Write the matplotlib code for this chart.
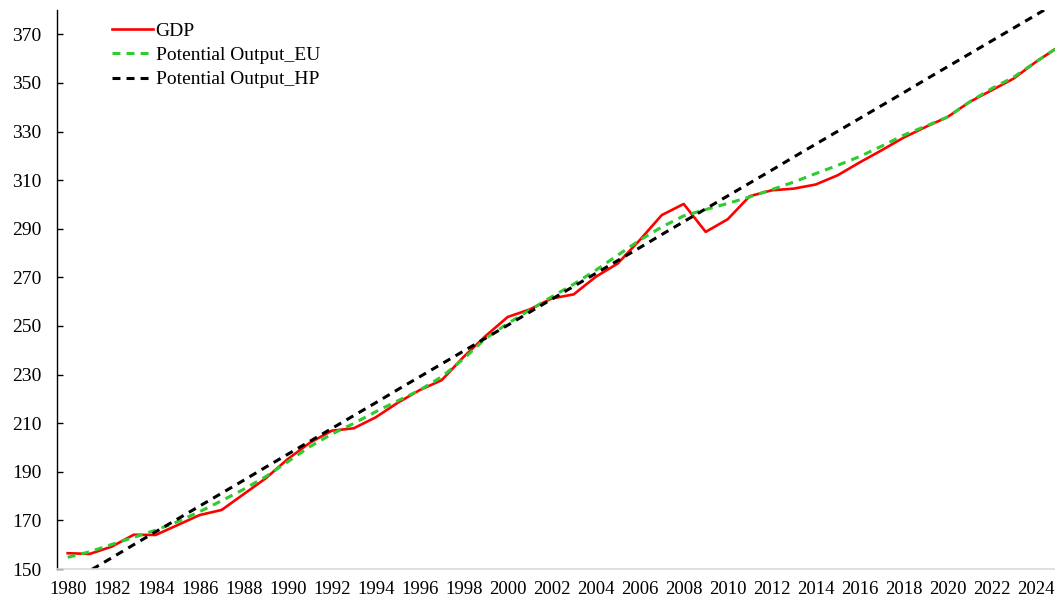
"""
GDP vs potential output (EU method and HP filter), 1980-2025.
Excel-style line chart recreated with matplotlib.
"""

import matplotlib
matplotlib.use("Agg")
import matplotlib.pyplot as plt


years = list(range(1980, 2026))
tick_years = list(range(1980, 2025, 2))

gdp = [156.5, 156.2, 159.2, 164.1, 164.0, 168.1, 172.2, 174.3, 180.8, 187.3,
       195.2, 201.9, 206.9, 207.9, 212.4, 218.4, 223.6, 227.7, 237.3, 245.9,
       253.7, 256.8, 261.3, 263.0, 270.2, 275.7, 285.3, 295.6, 300.2, 288.7,
       293.9, 303.4, 305.8, 306.5, 308.2, 312.0, 317.3, 322.3, 327.5, 331.9,
       336.0, 342.2, 347.0, 351.8, 358.6, 364.6]

potential_eu = [154.8, 157.1, 160.1, 163.0, 166.0, 169.5, 173.6, 178.1, 182.8, 188.0,
                194.1, 200.3, 205.5, 209.9, 214.7, 219.2, 223.6, 229.1, 236.5, 244.9,
                251.0, 256.5, 262.0, 267.2, 272.9, 279.1, 285.3, 290.7, 295.3, 297.9,
                300.4, 303.1, 306.1, 309.2, 312.7, 316.1, 319.7, 324.0, 328.5, 332.2,
                336.0, 342.2, 347.7, 352.4, 358.6, 364.6]

potential_hp = [144.0, 149.3, 154.6, 160.0, 165.3, 170.6, 175.9, 181.2, 186.5, 191.9,
                197.2, 202.5, 207.8, 213.1, 218.4, 223.8, 229.1, 234.4, 239.7, 245.0,
                250.3, 255.7, 261.0, 266.3, 271.6, 276.9, 282.2, 287.6, 292.9, 298.2,
                303.5, 308.8, 314.1, 319.5, 324.8, 330.1, 335.4, 340.7, 346.0, 351.4,
                356.7, 362.0, 367.3, 372.6, 377.9, 383.3]

y_ticks = list(range(150, 371, 20))


def main():
    plt.rcParams["font.family"] = ["Liberation Serif", "DejaVu Serif"]
    plt.rcParams["font.size"] = 14

    W, H = 1055, 603
    fig = plt.figure(figsize=(W / 100, H / 100), dpi=100)
    # plot area runs a little past the right edge, as in the cropped original
    ax = fig.add_axes([56.7 / W, 34 / H, (1068.7 - 56.7) / W, (569 - 10) / H])

    ax.plot(years, gdp, color="#ff0000", lw=1.9, label="GDP")
    ax.plot(years, potential_eu, color="#2ecc2e", lw=2.2,
            linestyle=(0, (2.6, 2.0)), label="Potential Output_EU")
    ax.plot(years, potential_hp, color="black", lw=2.2,
            linestyle=(0, (2.6, 2.0)), label="Potential Output_HP")

    ax.set_xlim(1979.5, 2025.5)
    ax.set_ylim(150, 380)
    ax.set_xticks(tick_years)
    ax.set_xticklabels([str(y) for y in tick_years], fontsize=13.5)
    ax.set_yticks(y_ticks)

    ax.tick_params(axis="y", direction="in", length=4.5, width=1, pad=11, colors="black")
    ax.tick_params(axis="x", length=0, pad=9, colors="black")

    for side in ("top", "right"):
        ax.spines[side].set_visible(False)
    ax.spines["left"].set_color("black")
    ax.spines["left"].set_linewidth(1.0)
    ax.spines["bottom"].set_color("#d9d9d9")
    ax.spines["bottom"].set_linewidth(1.2)

    ax.legend(loc="upper left", bbox_to_anchor=(112 / W, 1 - 22 / H),
              bbox_transform=fig.transFigure, frameon=False, fontsize=14,
              handlelength=2.1, handletextpad=0.15, labelspacing=0.35,
              borderpad=0, borderaxespad=0)

    fig.savefig("out.png", dpi=100)


if __name__ == "__main__":
    main()
